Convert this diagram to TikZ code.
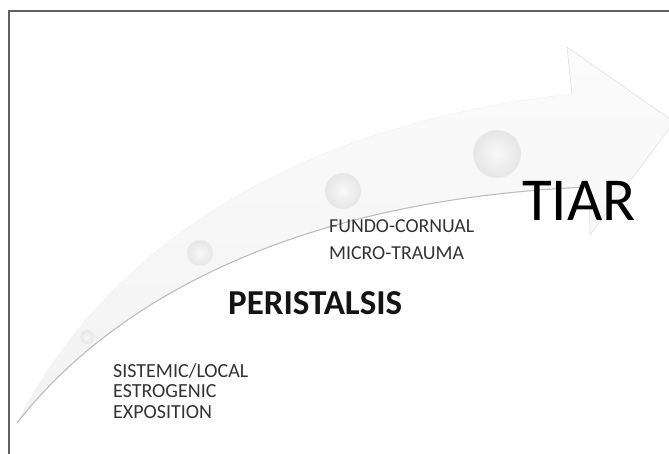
\documentclass[tikz,border=0pt]{standalone}
\usepackage{fontspec}
\setmainfont{Carlito}
\usepackage{tikz}
\definecolor{txtgray}{HTML}{333333}
\definecolor{edgegray}{HTML}{BDBDBD}

\begin{document}
\begin{tikzpicture}[x=1pt,y=-1pt,
  ball/.style={circle,inner sep=0pt,draw=gray!12,inner color=gray!5,outer color=gray!20},
  label/.style={anchor=north west,inner sep=0pt,align=left,text=txtgray}]
\useasboundingbox (0,0) rectangle (669,454);
\begin{scope}
\clip (0,0) rectangle (669,454);
\shade[top color=gray!3,bottom color=gray!10] (17,423) .. controls (90,280) and (250,130) .. (572,94) -- (567,47) -- (674,122) -- (590,235) -- (589,187) .. controls (280,200) and (105,310) .. (17,423) -- cycle;
\draw[gray!10,line width=0.6pt] (17,423) .. controls (90,280) and (250,130) .. (572,94);
\draw[gray!25,line width=0.6pt] (572,94) -- (567,47) -- (674,122) -- (590,235) -- (589,187);
\draw[edgegray,line width=1.1pt] (589,187) .. controls (280,200) and (105,310) .. (17,423);
\end{scope}
\draw[gray!75!black,line width=1.4pt] (9,454) -- (9,11) -- (669,11);

\node (dot1) [ball,minimum size=14pt] at (87,337) {};
\node (dot2) [ball,minimum size=26pt] at (200,253) {};
\node (dot3) [ball,minimum size=36pt] at (343,191) {};
\node (dot4) [ball,minimum size=48pt] at (497,154) {};

\node (expo) [label,font=\fontsize{20}{20.5}\selectfont] at (113,363) {SISTEMIC/LOCAL\\ESTROGENIC\\EXPOSITION};
\node (trauma) [label,font=\fontsize{19.8}{27}\selectfont] at (329,219.5) {FUNDO-CORNUAL\\MICRO-TRAUMA};
\node (peri) [label,text=black!92,font=\fontsize{35}{38}\selectfont\bfseries] at (228,291) {PERISTALSIS};
\node (tiar) [label,text=black,font=\fontsize{61}{66}\selectfont] at (522,181) {TIAR};
\end{tikzpicture}
\end{document}
